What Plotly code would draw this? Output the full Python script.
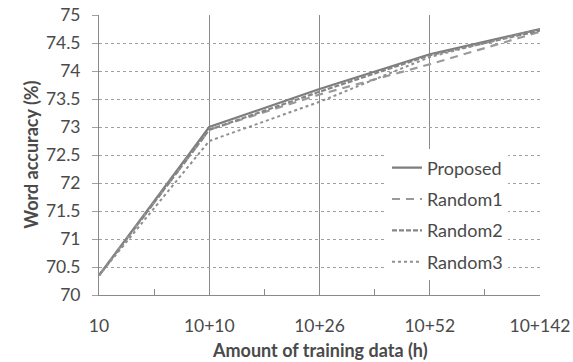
import plotly.graph_objects as go

categories = ["10", "10+10", "10+26", "10+52", "10+142"]
proposed = [70.35, 73.0, 73.68, 74.3, 74.75]
random1 = [70.35, 72.95, 73.58, 74.12, 74.7]
random2 = [70.35, 72.95, 73.63, 74.28, 74.72]
random3 = [70.35, 72.75, 73.45, 74.25, 74.75]
y_ticks = [70, 70.5, 71, 71.5, 72, 72.5, 73, 73.5, 74, 74.5, 75]
y_labels = ["70", "70.5", "71", "71.5", "72", "72.5", "73", "73.5", "74", "74.5", "75"]

xpos = list(range(len(categories)))
font_family = "Lato, 'Open Sans', sans-serif"
txt = "#4a4a4a"
axis_col = "#8a8a8a"

series = [
    ("Proposed", proposed, "#7d7d7d", "solid", 2.2),
    ("Random1", random1, "#9a9a9a", "8px,6px", 2.2),
    ("Random2", random2, "#858585", "5px,2px", 2.2),
    ("Random3", random3, "#8f8f8f", "dot", 2.0),
]

fig = go.Figure()
for i, (name, vals, col, dash, w) in enumerate(series):
    fig.add_trace(go.Scatter(
        x=xpos, y=vals, mode="lines", name=name,
        line=dict(color=col, dash=dash, width=w),
        legendgroup=str(i),
    ))

fig.update_layout(
    width=573, height=362,
    margin=dict(l=99, r=33, t=15, b=67, autoexpand=False),
    paper_bgcolor="white", plot_bgcolor="white",
    font=dict(family=font_family, color=txt, size=17),
    showlegend=True,
    legend=dict(
        x=0.653, y=0.52, xanchor="left", yanchor="top",
        bgcolor="white", borderwidth=0,
        font=dict(size=18, color=txt),
        traceorder="grouped", tracegroupgap=5,
    ),
    xaxis=dict(
        range=[0, 4], tickvals=xpos, ticktext=categories,
        showgrid=True, gridcolor=axis_col, gridwidth=1,
        showline=True, linecolor=axis_col, linewidth=1,
        ticks="", ticklabelstandoff=15, ticklabeloverflow="allow",
        tickfont=dict(size=17.5, color=txt),
        minor=dict(tickvals=[0.5, 1.5, 2.5, 3.5], ticks="inside", ticklen=6,
                   tickcolor=axis_col, showgrid=False),
        zeroline=False, automargin=False,
    ),
    yaxis=dict(
        range=[70, 75], tickvals=y_ticks, ticktext=y_labels,
        showgrid=True, gridcolor="#a0a0a0", gridwidth=1, griddash="dot",
        showline=True, linecolor=axis_col, linewidth=1,
        ticks="outside", ticklen=6, tickcolor="#a0a0a0",
        ticklabelstandoff=8, ticklabeloverflow="allow",
        tickfont=dict(size=17.5, color=txt),
        zeroline=False, automargin=False,
    ),
    annotations=[
        dict(text="<b>Amount of training data (h)</b>", xref="paper", yref="paper",
             x=0.5, y=-0.195, xanchor="center", yanchor="middle", showarrow=False,
             font=dict(size=18, color=txt)),
        dict(text="<b>Word accuracy (%)</b>", xref="paper", yref="paper",
             x=-0.155, y=0.5, xanchor="center", yanchor="middle", showarrow=False,
             textangle=-90, font=dict(size=18, color=txt)),
    ],
)

fig.write_html("out.html", config={"displayModeBar": False},
               post_script="document.body.style.margin='0';document.body.style.padding='0';")
